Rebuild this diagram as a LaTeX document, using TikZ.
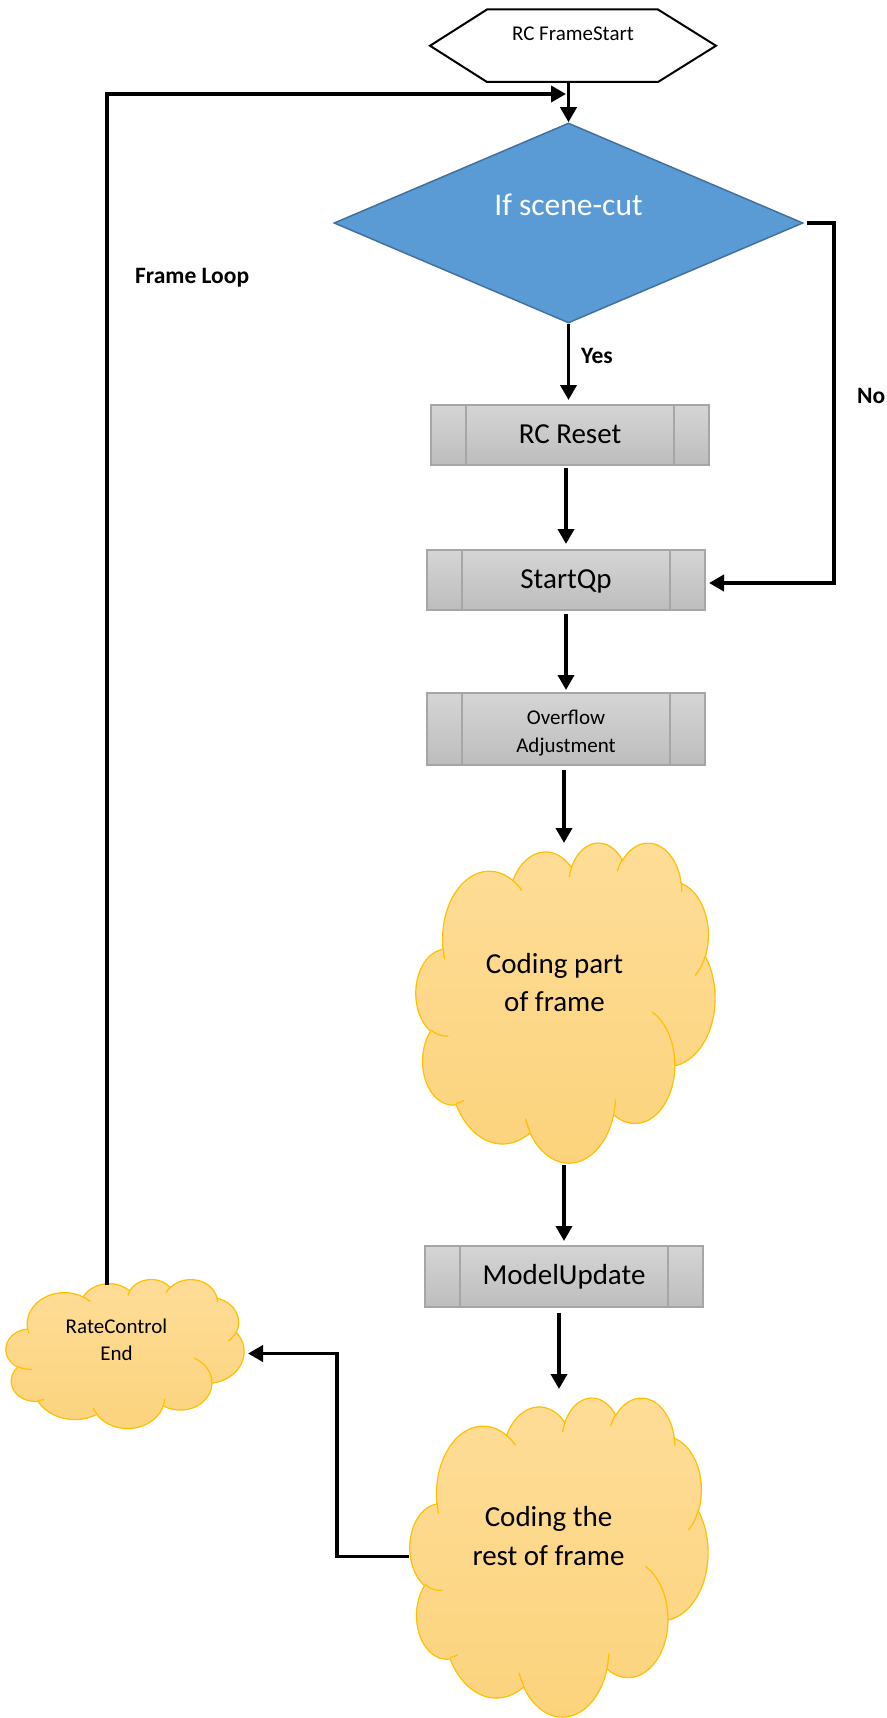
\documentclass[tikz,border=0pt]{standalone}
\usepackage{fontspec}
\setmainfont{Carlito}
\usetikzlibrary{arrows.meta,shapes.geometric,calc}
\definecolor{boxtop}{RGB}{213,213,213}
\definecolor{boxbot}{RGB}{189,189,189}
\definecolor{boxline}{RGB}{166,166,166}
\definecolor{cloudtop}{RGB}{254,221,152}
\definecolor{cloudbot}{RGB}{252,211,124}
\definecolor{cloudline}{RGB}{255,192,0}
\definecolor{decfill}{RGB}{91,155,213}
\definecolor{decline}{RGB}{65,113,156}
% OOXML arcTo (visual angles) -> TikZ arc (parametric angles)
\newcommand{\carc}[4]{arc[start angle={vpa(#3,#1,#2)}, delta angle={vpd(#3,#4,#1,#2)}, x radius=#1, y radius=#2]}
\newcommand{\officecloud}[4]{%
  \pgfmathsetmacro{\cloudxu}{#3/100}\pgfmathsetmacro{\cloudyu}{#4/100}%
  \begin{scope}[xshift=#1pt, yshift=-#2pt, x=\cloudxu pt, y=-\cloudyu pt]
    \path[cloudbody] (9.028,33.264)
      \carc{15.632}{21.273}{-190.4875}{123.7805}
      \carc{12.345}{16.822}{-144.1024}{89.9452}
      \carc{10.104}{13.762}{-145.8079}{99.7230}
      \carc{11.243}{15.266}{-130.9861}{117.2417}
      \carc{12.345}{16.836}{-78.7089}{109.0269}
      \carc{15.683}{21.343}{-46.2673}{130.2690}
      \carc{13.391}{18.211}{0.6250}{114.0333}
      \carc{15.630}{21.331}{22.4516}{115.1726}
      \carc{17.870}{24.405}{66.2426}{75.7110}
      \carc{10.093}{13.699}{-274.9421}{146.7356}
      \carc{10.058}{13.762}{-246.8285}{152.5189}
      -- cycle;
    \draw[cloudinner]
      (10.863,60.595) \carc{10.058}{13.762}{86.742}{26.4295}
      (16.037,80.785) \carc{10.093}{13.699}{73.6105}{11.4475}
      (38.144,90.486) \carc{15.630}{21.331}{137.6242}{14.0811}
      (66.729,80.442) \carc{15.630}{21.331}{6.4533}{15.9984}
      (79.002,53.134) \carc{13.391}{18.211}{-70.2924}{70.9174}
      (96.755,35.542) \carc{12.345}{16.836}{30.3180}{27.7515}
      (88.713,12.560) \carc{11.243}{15.266}{-13.7443}{14.8589}
      (67.310,9.148)  \carc{11.243}{15.266}{-149.1815}{18.1954}
      (51.252,10.926) \carc{10.104}{13.762}{-163.4943}{17.6864}
      (32.407,12.019) \carc{15.632}{21.273}{-66.7070}{12.3194}
      (9.553,36.549)  \carc{15.632}{21.273}{162.0364}{11.8582};
  \end{scope}}
\begin{document}
\begin{tikzpicture}[x=1pt, y=-1pt,
  declare function={
    vpa(\ang,\wr,\hr)=atan2(\wr*sin(\ang),\hr*cos(\ang));
    vpd(\ang,\swp,\wr,\hr)=(vpa(\ang+\swp,\wr,\hr)-vpa(\ang,\wr,\hr))+360*round((\swp-(vpa(\ang+\swp,\wr,\hr)-vpa(\ang,\wr,\hr)))/360);
  },
  cloudbody/.style={draw=cloudline, line width=1.2pt, top color=cloudtop, bottom color=cloudbot},
  cloudinner/.style={draw=cloudline, line width=1.2pt},
  conn/.style={line width=3.7pt, -{Triangle[length=15pt,width=16pt]}},
  pbox/.style={rectangle, draw=boxline, line width=1.3pt, top color=boxtop, bottom color=boxbot,
    minimum width=278pt, inner sep=0pt, outer sep=0pt, text height=38pt, text depth=22pt,
    font=\fontsize{29}{35}\selectfont,
    path picture={\draw[boxline, line width=1.3pt]
      ([xshift=35pt]path picture bounding box.north west) -- ([xshift=35pt]path picture bounding box.south west)
      ([xshift=-35pt]path picture bounding box.north east) -- ([xshift=-35pt]path picture bounding box.south east);}},
  areabox/.style={rectangle, draw=none, inner sep=0pt, outer sep=0pt},
  lbl/.style={font=\fontsize{23.5}{28}\selectfont\bfseries, anchor=base west, inner sep=0pt},
  ctext/.style={anchor=base, inner sep=0pt}
]
\useasboundingbox (0,0) rectangle (886,1718);

% ---------- start hexagon ----------
\node[areabox, minimum width=286pt, text height=31.5pt, text depth=41pt,
      font=\fontsize{21}{25}\selectfont] (start) at (573,45.75) {RC FrameStart};
\draw[line width=2pt, line join=miter] (start.west) -- ([xshift=57pt]start.north west)
  -- ([xshift=-58pt]start.north east) -- (start.east)
  -- ([xshift=-58pt]start.south east) -- ([xshift=57pt]start.south west) -- cycle;

% ---------- decision ----------
\node[diamond, draw=decline, fill=decfill, line width=1.5pt, inner sep=0pt,
      minimum width=469pt, minimum height=200pt] (dec) at (568.5,223) {};
\node[ctext, text=white, font=\fontsize{31.5}{36}\selectfont] (dectext) at (568.5,215) {If scene-cut};

% ---------- process boxes ----------
\node[pbox] (rcreset) at (570,435) {RC Reset};
\node[pbox] (startqp) at (566,580) {StartQp};
\node[pbox, text height=31pt, text depth=41pt, font=\fontsize{21}{28}\selectfont] (ovf) at (566,729)
  {\begin{tabular}[t]{@{}c@{}}Overflow\\Adjustment\end{tabular}};
\node[pbox, text depth=23pt] (mu) at (564,1276.5) {ModelUpdate};

% ---------- clouds ----------
\officecloud{416}{842}{299}{320}
\officecloud{410}{1397}{298}{319}
\officecloud{6}{1279}{238}{149}
\node[areabox, minimum width=299pt, minimum height=320pt] (c1) at (565.5,1002) {};
\node[areabox, minimum width=298pt, minimum height=319pt] (c2) at (559,1556.5) {};
\node[areabox, minimum width=238pt, minimum height=149pt] (rce) at (125,1353.5) {};
\node[ctext, font=\fontsize{29}{38}\selectfont] (c1text) at (554.5,973)
  {\begin{tabular}[t]{@{}c@{}}Coding part\\of frame\end{tabular}};
\node[ctext, font=\fontsize{29}{39}\selectfont] (c2text) at (548.5,1526.5)
  {\begin{tabular}[t]{@{}c@{}}Coding the\\rest of frame\end{tabular}};
\node[ctext, font=\fontsize{21}{27}\selectfont] (rcetext) at (116.5,1333)
  {\begin{tabular}[t]{@{}c@{}}RateControl\\End\end{tabular}};

% ---------- labels ----------
\node[lbl] (yeslbl) at (581,363) {Yes};
\node[lbl] (nolbl) at (857,403) {No};
\node[lbl] (looplbl) at (135,283) {Frame Loop};

% ---------- connectors ----------
\coordinate (loopin) at (566,94);
\draw[conn] (dec.north |- start.south) -- (dec.north);
\draw[conn] ([xshift=-18pt,yshift=-6pt]rce.north) |- (loopin);
\draw[conn, shorten >=5pt] (dec.south) -- (dec.south |- rcreset.north);
\draw[conn, shorten <=3pt, shorten >=4pt] (dec.east) -- ++(30,0) |- ([yshift=-3pt]startqp.east);
\draw[conn, shorten <=3pt, shorten >=6pt] (startqp.north |- rcreset.south) -- (startqp.north);
\draw[conn, shorten <=4pt, shorten >=3pt] (ovf.north |- startqp.south) -- (ovf.north);
\draw[conn, shorten <=5pt, shorten >=-1pt] ([xshift=-1.5pt]c1.north |- ovf.south) -- ([xshift=-1.5pt]c1.north);
\draw[conn, shorten <=3pt, shorten >=5pt] (mu.north |- c1.south) -- (mu.north);
\draw[conn, shorten <=6pt, shorten >=8pt] (c2.north |- mu.south) -- (c2.north);
\draw[conn, shorten <=1pt, shorten >=4pt] (c2.west) -- ++(-73,0) |- (rce.east);
\end{tikzpicture}
\end{document}
